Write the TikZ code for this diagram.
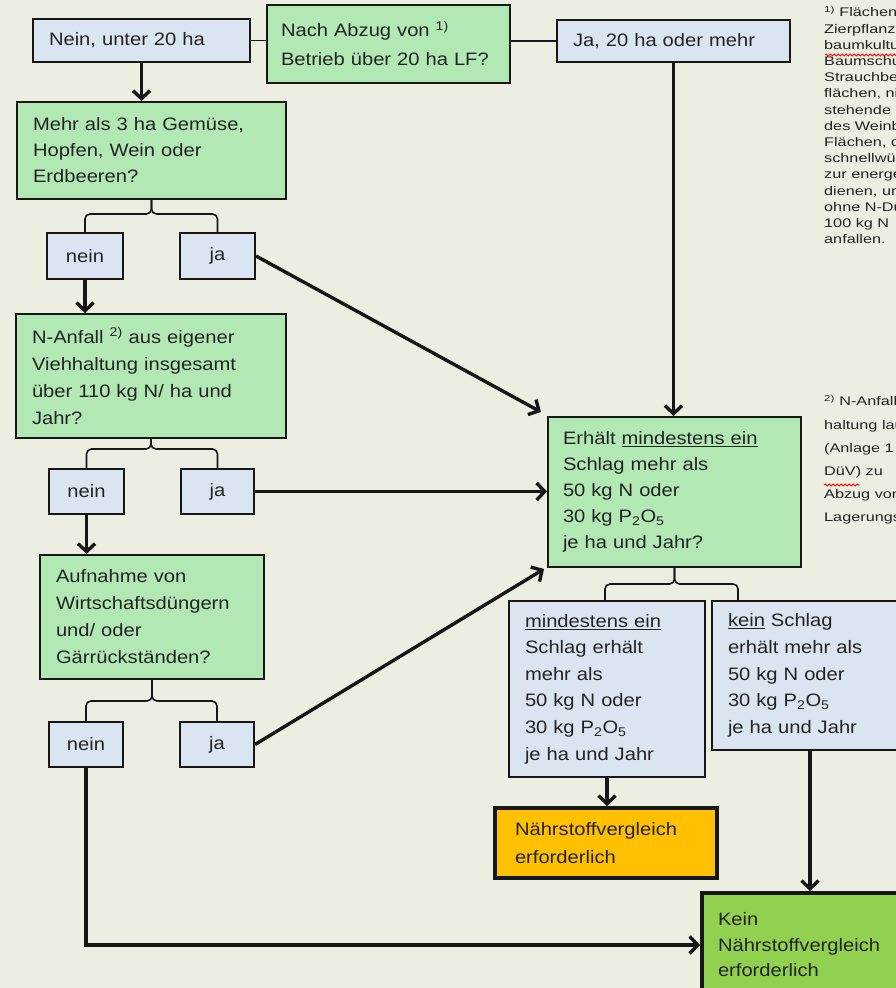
\documentclass[tikz,border=0pt]{standalone}
\usepackage{fontspec}
\setmainfont{Liberation Sans}[FakeStretch=1.12]
\newfontfamily\fnfont{Liberation Sans}[FakeStretch=1.3]
\usetikzlibrary{arrows.meta,calc,decorations.pathmorphing}
\definecolor{bg}{RGB}{236,238,225}
\definecolor{lblue}{RGB}{219,229,242}
\definecolor{qgreen}{RGB}{178,232,180}
\definecolor{orng}{RGB}{255,192,0}
\definecolor{kgreen}{RGB}{146,208,80}
\definecolor{lc}{RGB}{22,22,22}
\definecolor{tc}{RGB}{35,35,35}
\tikzset{
  box/.style={draw=lc, line width=2pt, inner xsep=16pt, inner ysep=0pt, align=left, text=tc,
    font=\fontsize{18}{26}\selectfont},
  qbox/.style={box, fill=qgreen},
  abox/.style={box, fill=lblue},
  yn/.style={abox, align=center, inner xsep=0pt},
  rbox/.style={box, line width=4pt},
  arr/.style={draw=lc, line width=3.4pt, -{Straight Barb[length=8pt,width=17pt]}},
  thinline/.style={draw=lc, line width=1.6pt},
  brace/.style={draw=lc, line width=1.6pt, rounded corners=5pt},
  fn/.style={anchor=north west, inner sep=0pt, align=left, text=tc},
  wavy/.style={draw=red, line width=0.8pt, decorate, decoration={snake, amplitude=1.1pt, segment length=4pt}}
}
\begin{document}
\begin{tikzpicture}[x=1pt,y=-1pt]
\useasboundingbox (0,0) rectangle (896,988);
\clip (0,0) rectangle (896,988);
\fill[bg] (0,0) rectangle (896,988);

% top row
\node[abox, minimum width=217pt, minimum height=43pt, text width=185pt] (nein0) at (141.5,40.5) {Nein, unter 20 ha};
\node[qbox, minimum width=243pt, minimum height=78pt, text width=215pt, inner xsep=14pt, font=\fontsize{18}{29}\selectfont] (q1) at (388.5,43.5) {Nach Abzug von \textsuperscript{1)}\\Betrieb über 20 ha LF?};
\node[abox, minimum width=233pt, minimum height=42pt, text width=201pt] (ja0) at (673.5,41) {Ja, 20 ha oder mehr};

% left column
\node[qbox, minimum width=269pt, minimum height=97pt, text width=237pt] (q2) at (151.5,150.5) {Mehr als 3 ha Gemüse,\\Hopfen, Wein oder\\Erdbeeren?};
\node[yn, minimum width=76pt, minimum height=46pt] (nein1) at (85,256) {nein};
\node[yn, minimum width=75pt, minimum height=46pt] (ja1) at (217.5,256) {ja};

\node[qbox, minimum width=270pt, minimum height=124pt, text width=238pt, font=\fontsize{18}{27}\selectfont] (q3) at (151,376) {N-Anfall \textsuperscript{2)} aus eigener\\Viehhaltung insgesamt\\über 110 kg N/ ha und\\Jahr?};
\node[yn, minimum width=75pt, minimum height=45pt] (nein2) at (86.5,491.5) {nein};
\node[yn, minimum width=73pt, minimum height=45pt] (ja2) at (217.5,491.5) {ja};

\node[qbox, minimum width=224pt, minimum height=124pt, text width=192pt, font=\fontsize{18}{27}\selectfont] (q4) at (152,617) {Aufnahme von\\Wirtschaftsdüngern\\und/ oder\\Gärrückständen?};
\node[yn, minimum width=74pt, minimum height=45pt] (nein3) at (86,744.5) {nein};
\node[yn, minimum width=74pt, minimum height=45pt] (ja3) at (217,744.5) {ja};

% right column
\node[qbox, minimum width=253pt, minimum height=150pt, text width=223pt, inner xsep=15pt] (q5) at (674.5,492) {Erhält \underline{mindestens ein}\\Schlag mehr als\\50 kg N oder\\30 kg P\textsubscript{2}O\textsubscript{5}\\je ha und Jahr?};
\node[abox, minimum width=196pt, minimum height=176pt, text width=164pt, font=\fontsize{18}{26.6}\selectfont] (r1) at (607,689) {\underline{mindestens ein}\\Schlag erhält\\mehr als\\50 kg N oder\\30 kg P\textsubscript{2}O\textsubscript{5}\\je ha und Jahr};
\node[abox, minimum width=196pt, minimum height=149pt, text width=164pt, font=\fontsize{18}{26.6}\selectfont] (r2) at (810,675.5) {\underline{kein} Schlag\\erhält mehr als\\50 kg N oder\\30 kg P\textsubscript{2}O\textsubscript{5}\\je ha und Jahr};
\node[rbox, fill=orng, minimum width=222pt, minimum height=70pt, text width=182pt, inner xsep=20pt, font=\fontsize{18}{28}\selectfont] (res1) at (606,843) {Nährstoffvergleich\\erforderlich};
\node[rbox, fill=kgreen, minimum width=230pt, minimum height=104pt, text width=198pt, font=\fontsize{18}{25.5}\selectfont] (res2) at (817,945) {Kein\\Nährstoffvergleich\\erforderlich};

% footnotes (cut off at the right edge, as in the reference)
\node[fn, font=\fnfont\fontsize{12.5}{16.2}\selectfont] (fn1) at (824,6) {\textsuperscript{1)} Flächen mit\\Zierpflanzen,\\baumkulturen,\\Baumschulen,\\Strauchbeeren-\\flächen, nicht\\stehende Flächen\\des Weinbaus,\\Flächen, die\\schnellwüchsigen\\zur energetischen\\dienen, und\\ohne N-Düngung\\100 kg N\\anfallen.};
\node[fn, font=\fnfont\fontsize{12.5}{23.2}\selectfont] (fn2) at (824,395) {\textsuperscript{2)} N-Anfall aus\\haltung laut\\(Anlage 1\\DüV) zu\\Abzug von\\Lagerungs-};
\draw[wavy] (825,55) -- (900,55);
\draw[wavy] (824,485) -- (860,485);

% thin connectors
\draw[thinline] (nein0.east) -- (nein0.east -| q1.west);
\draw[thinline] (q1.east |- ja0.west) -- (ja0.west);

% braces
\draw[brace] (nein1.north) |- ([yshift=-14pt]q2.south) -- (q2.south);
\draw[brace] (ja1.north) |- ([yshift=-14pt]q2.south) -- (q2.south);
\draw[brace] (nein2.north) |- ([yshift=-10pt]q3.south) -- (q3.south);
\draw[brace] (ja2.north) |- ([yshift=-10pt]q3.south) -- (q3.south);
\draw[brace] (nein3.north) |- ([yshift=-21pt]q4.south) -- (q4.south);
\draw[brace] (ja3.north) |- ([yshift=-21pt]q4.south) -- (q4.south);
\draw[brace] ([xshift=-2pt]r1.north) |- ([yshift=-16pt]q5.south) -- (q5.south);
\draw[brace] ([xshift=-72pt]r2.north) |- ([yshift=-16pt]q5.south) -- (q5.south);

% arrows
\draw[arr] (nein0.south) -- (nein0.south |- q2.north);
\draw[arr] (ja0.south) -- (ja0.south |- q5.north);
\draw[arr] (nein1.south) -- (nein1.south |- q3.north);
\draw[arr] (ja1.east) -- ([shift={(-6pt,4pt)}]q5.north west);
\draw[arr] (ja2.east) -- (ja2.east -| q5.west);
\draw[arr] (nein2.south) -- (nein2.south |- q4.north);
\draw[arr] (ja3.east) -- ([shift={(-3pt,-1pt)}]q5.south west);
\draw[arr] (nein3.south) |- (res2.west);
\draw[arr] (r1.south) -- (r1.south |- res1.north);
\draw[arr] (r2.south) -- (r2.south |- res2.north);
\end{tikzpicture}
\end{document}
